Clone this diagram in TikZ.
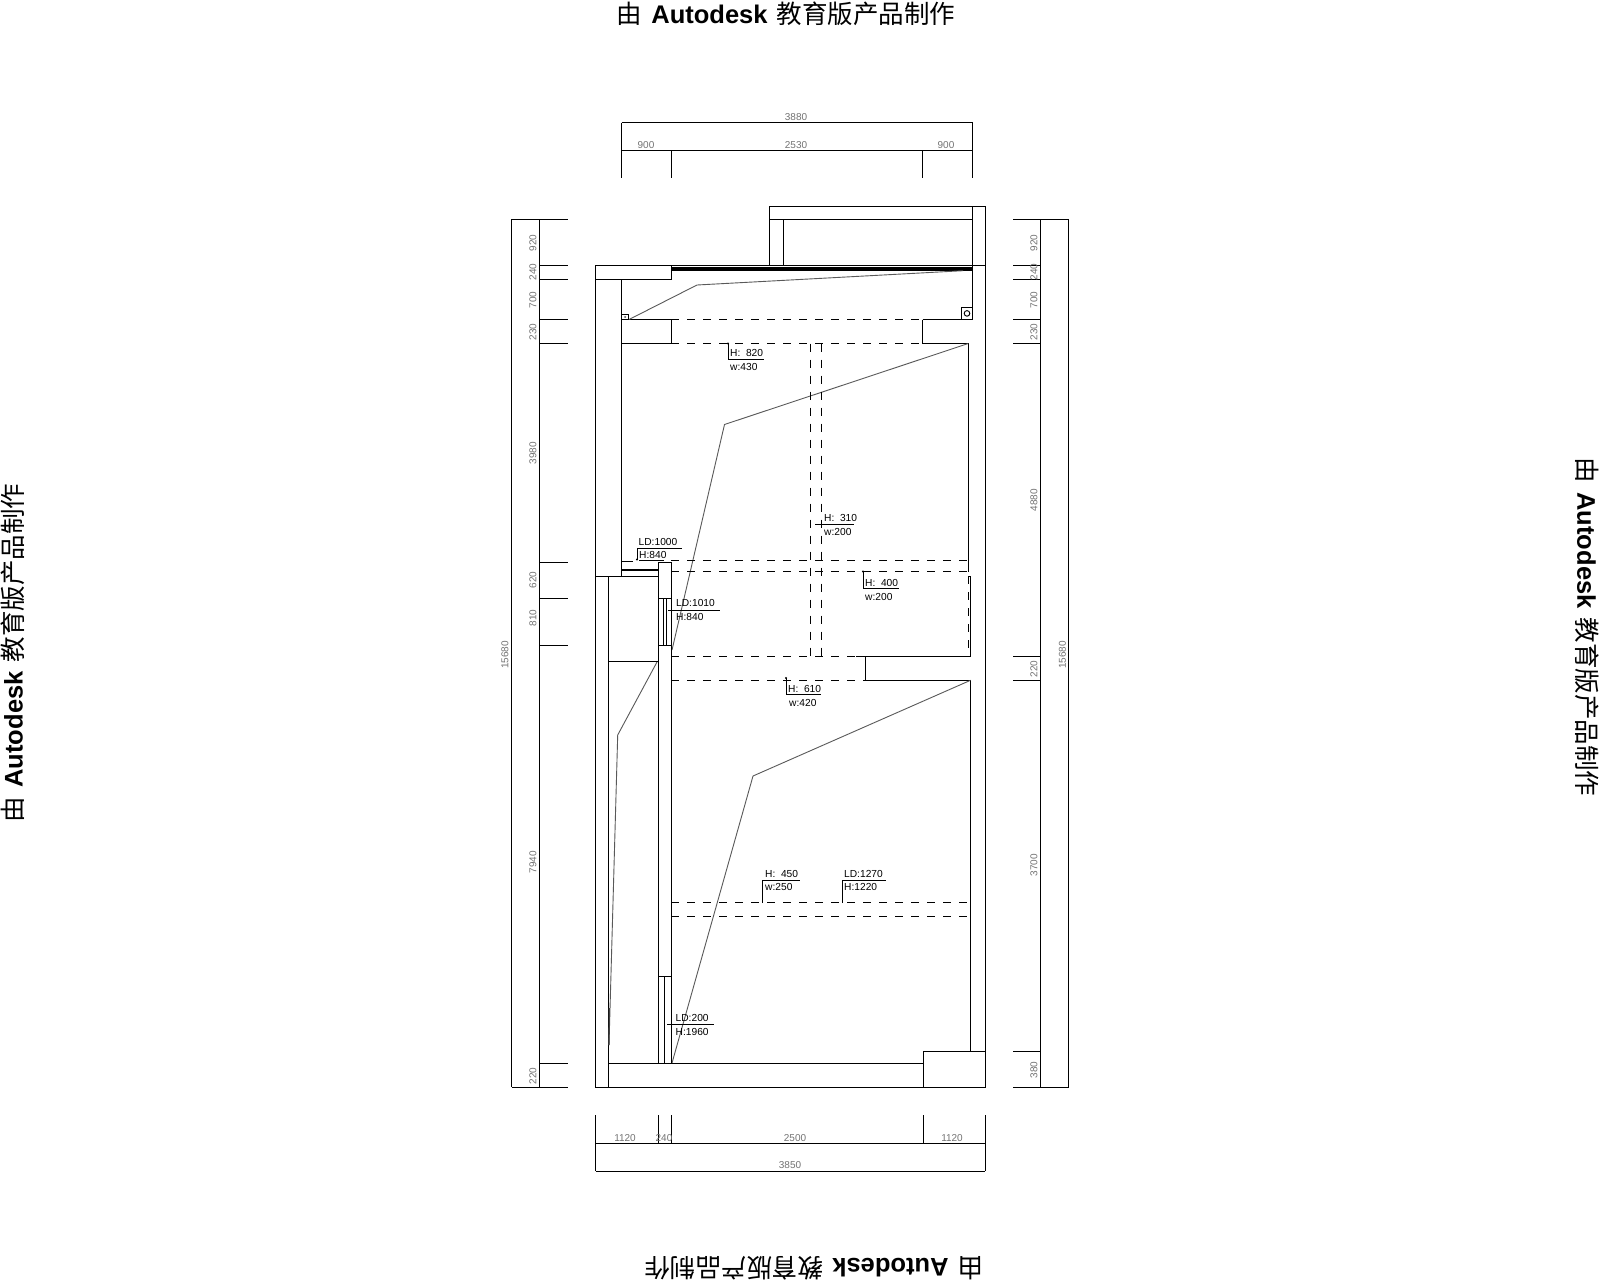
\documentclass[tikz,border=0pt]{standalone}
\usepackage{fontspec}
\setmainfont{Liberation Sans}
\newfontfamily\cjk{Noto Sans CJK SC}
\tikzset{
  ln/.style={draw=black,line width=0.95pt},
  sketch/.style={draw=black!65,line width=0.9pt},
  dsh/.style={draw=black,line width=0.95pt,dash pattern=on 8pt off 8pt},
  dimtxt/.style={font=\fontsize{10}{10}\selectfont,text=black!55,inner sep=0pt},
  lbl/.style={font=\fontsize{10.2}{10.2}\selectfont,text=black,inner sep=0pt,anchor=west},
  wmark/.style={font=\fontsize{25.5}{25.5}\selectfont,text=black,inner sep=0pt},
  dotfill/.style={fill=black,draw=none}
}
\newcommand{\wm}{{\cjk 由}\hspace{2pt} \textbf{Autodesk}\hspace{2pt} {\cjk 教育版产品制作}}
\begin{document}
\begin{tikzpicture}[x=1pt,y=-1pt]
\useasboundingbox (0,0) rectangle (1600,1280);
\fill[white] (0,0) rectangle (1600,1280);
% watermarks
\node[wmark] (wmtop) at (786,13.5) {\wm};
\node[wmark,rotate=180] (wmbot) at (814,1268) {\wm};
\node[wmark,rotate=90] (wmleft) at (13,653) {\wm};
\node[wmark,rotate=-90] (wmright) at (1587,627) {\wm};
% top dimensions
\draw[ln] (621.5,122.5) -- (972.7,122.5) (621.5,150) -- (972.7,150);
\draw[ln] (621.5,122.5) -- (621.5,178) (972.7,122.5) -- (972.7,178);
\draw[ln] (671,150) -- (671,178) (922.5,150) -- (922.5,178);
\node[dimtxt] (d1) at (796,117) {3880};
\node[dimtxt] (d2) at (646,145) {900};
\node[dimtxt] (d3) at (796,145) {2530};
\node[dimtxt] (d4) at (946,145) {900};
% left dimensions
\draw[ln] (511.5,219) -- (511.5,1087.3) (539.5,219) -- (539.5,1087.3);
\draw[ln] (511.5,219) -- (567.7,219) (511.5,1087.3) -- (567.7,1087.3);
\foreach \yy in {265,279,319.5,343.5,562.5,598.5,645,1063}
  \draw[ln] (539.5,\yy) -- (567.7,\yy);
\node[dimtxt,rotate=90] (l1) at (533,243) {920};
\node[dimtxt,rotate=90] (l2) at (533,272) {240};
\node[dimtxt,rotate=90] (l3) at (533,300) {700};
\node[dimtxt,rotate=90] (l4) at (533,332) {230};
\node[dimtxt,rotate=90] (l5) at (533,453) {3980};
\node[dimtxt,rotate=90] (l6) at (533,580) {620};
\node[dimtxt,rotate=90] (l7) at (533,618) {810};
\node[dimtxt,rotate=90] (l8) at (505,655) {15680};
\node[dimtxt,rotate=90] (l9) at (533,862) {7940};
\node[dimtxt,rotate=90] (l10) at (533,1076) {220};
% right dimensions
\draw[ln] (1040,219) -- (1040,1087.3) (1068.7,219) -- (1068.7,1087.3);
\draw[ln] (1013,219) -- (1068.7,219) (1013,1087.3) -- (1068.7,1087.3);
\foreach \yy in {265,279,319.5,343.5,656,680.3,1051.3}
  \draw[ln] (1013,\yy) -- (1040,\yy);
\node[dimtxt,rotate=90] (r1) at (1034,243) {920};
\node[dimtxt,rotate=90] (r2) at (1034,272) {240};
\node[dimtxt,rotate=90] (r3) at (1034,300) {700};
\node[dimtxt,rotate=90] (r4) at (1034,332) {230};
\node[dimtxt,rotate=90] (r5) at (1034,500) {4880};
\node[dimtxt,rotate=90] (r6) at (1034,669) {220};
\node[dimtxt,rotate=90] (r7) at (1034,865) {3700};
\node[dimtxt,rotate=90] (r8) at (1034,1070) {380};
\node[dimtxt,rotate=90] (r9) at (1062.5,655) {15680};
% bottom dimensions
\draw[ln] (595.5,1143.3) -- (985.3,1143.3) (595.5,1171.3) -- (985.3,1171.3);
\draw[ln] (595.5,1115) -- (595.5,1171.3) (985.3,1115) -- (985.3,1171.3);
\draw[ln] (658.3,1115) -- (658.3,1143.3) (671,1115) -- (671,1143.3) (923.3,1115) -- (923.3,1143.3);
\node[dimtxt] (b1) at (625,1138) {1120};
\node[dimtxt] (b2) at (664,1138) {240};
\node[dimtxt] (b3) at (795,1138) {2500};
\node[dimtxt] (b4) at (952,1138) {1120};
\node[dimtxt] (b5) at (790,1165) {3850};
% plan: outer walls
\draw[ln] (595.5,265) -- (985.3,265);
\draw[ln] (769.3,265) -- (769.3,206.7) -- (985.3,206.7) -- (985.3,1087.3) -- (595.5,1087.3) -- (595.5,265);
\draw[ln] (769.3,219) -- (972.7,219);
\draw[ln] (783.7,219) -- (783.7,265);
\draw[ln] (972.7,206.7) -- (972.7,319.5);
\fill[black] (671,266.5) rectangle (972.7,270.7);
\draw[ln] (595.5,279) -- (671,279) -- (671,265);
\draw[ln] (621.5,279) -- (621.5,576.3);
% upper room
\draw[ln] (621.5,319.5) -- (671,319.5) -- (671,343.5) -- (621.5,343.5);
\draw[ln] (922.5,319.5) -- (972.7,319.5);
\draw[ln] (922.5,319.5) -- (922.5,343.5) -- (968.3,343.5) -- (968.3,571.5);
\draw[ln] (621.5,314.5) rectangle (628.7,319.5);
\fill[black!70] (625,317) circle (1);
\draw[ln] (961.3,307.3) rectangle (972.7,319.5);
\draw[ln] (967,313.4) circle (2.8);
\draw[dsh] (671,319.5) -- (922.5,319.5);
\draw[dsh] (671,343.5) -- (922.5,343.5);
\draw[sketch] (629,319.5) -- (697,285) -- (963,270.7);
\draw[sketch] (968.3,343.5) -- (724.5,424.5) -- (672,650);
% dashed bands
\draw[dsh] (671,560.5) -- (968.3,560.5);
\draw[dsh] (671,571.5) -- (968.3,571.5);
\draw[dsh] (810.7,343.5) -- (810.7,656);
\draw[dsh] (821.7,343.5) -- (821.7,656);
\draw[dsh] (671,656) -- (856,656);
\draw[dsh] (671,680.3) -- (865.5,680.3);
\draw[dsh] (968.7,576) -- (968.7,656);
\draw[dsh] (671,902) -- (970.5,902);
\draw[dsh] (671,916.3) -- (970.5,916.3);
% right wall section
\draw[ln] (968.3,576) -- (970.5,576) -- (970.5,656) -- (856,656);
\draw[ln] (865.5,656) -- (865.5,680.3) -- (970.5,680.3) -- (970.5,1051.3);
\draw[ln] (985.3,1051.3) -- (923.3,1051.3) -- (923.3,1087.3);
\draw[ln] (608.3,1063) -- (923.3,1063);
\draw[sketch] (970.5,680.3) -- (753,776) -- (672,1063);
% central wall / door strip
\draw[ln] (595.5,576.3) -- (658.3,576.3);
\draw[ln] (621.5,561.5) -- (633,561.5);
\draw[ln,line width=2pt] (621.5,570.2) -- (658.3,570.2);
\draw[ln] (658.3,562.5) -- (671,562.5) -- (671,1063);
\draw[ln] (658.3,562.5) -- (658.3,1063);
\draw[ln] (608.3,576.3) -- (608.3,1087.3);
\draw[ln] (658.3,598.5) -- (671,598.5) (658.3,645) -- (671,645);
\draw[ln] (663.5,598.5) -- (663.5,645) (666.5,598.5) -- (666.5,645);
\draw[ln] (658.3,976) -- (671,976) (664.3,976) -- (664.3,1063);
\draw[ln] (608.3,661.5) -- (658.3,661.5);
\draw[sketch] (657,662) -- (617.7,735) -- (609,1045);
\draw[black!75,line width=1.3pt] (609.3,1008) -- (609,1045);
% annotations
\draw[ln] (728,343.5) -- (728,359.5) -- (764,359.5);
\fill[dotfill] (728,343.5) circle (1.2);
\node[lbl] (t1) at (730,353) {H:\ \ 820};
\node[lbl] (t2) at (730,367) {w:430};
\draw[ln] (815,524) -- (854,524);
\node[lbl] (t3) at (824,518) {H:\ \ 310};
\node[lbl] (t4) at (824,532) {w:200};
\draw[ln] (863,571.5) -- (863,588.5) -- (898.7,588.5);
\fill[dotfill] (863,571.5) circle (1.2);
\node[lbl] (t5) at (865,583) {H:\ \ 400};
\node[lbl] (t6) at (865,597) {w:200};
\draw[ln] (786,678) -- (786,694) -- (821,694);
\fill[dotfill] (786,678) circle (1.2);
\node[lbl] (t7) at (788,689) {H:\ \ 610};
\node[lbl] (t8) at (789,703) {w:420};
\draw[ln] (637,560) -- (637,548) -- (682,548);
\fill[dotfill] (637,559.5) circle (1.2);
\node[lbl] (t9) at (638.5,541.5) {LD:1000};
\node[lbl] (t10) at (639,555) {H:840};
\draw[ln] (639,560) -- (664,560);
\draw[ln] (668,610) -- (720,610);
\node[lbl] (t11) at (676,603) {LD:1010};
\node[lbl] (t12) at (676,617) {H:840};
\draw[ln] (667,1024) -- (714,1024);
\node[lbl] (t13) at (675.5,1018) {LD:200};
\node[lbl] (t14) at (675.5,1032) {H:1960};
\draw[ln] (762.5,903) -- (762.5,880) -- (800,880);
\node[lbl] (t15) at (765,873.5) {H:\ \ 450};
\node[lbl] (t16) at (765,887) {w:250};
\draw[ln] (842.5,903) -- (842.5,880) -- (886,880);
\node[lbl] (t17) at (844,873.5) {LD:1270};
\node[lbl] (t18) at (844,887) {H:1220};
\end{tikzpicture}
\end{document}
